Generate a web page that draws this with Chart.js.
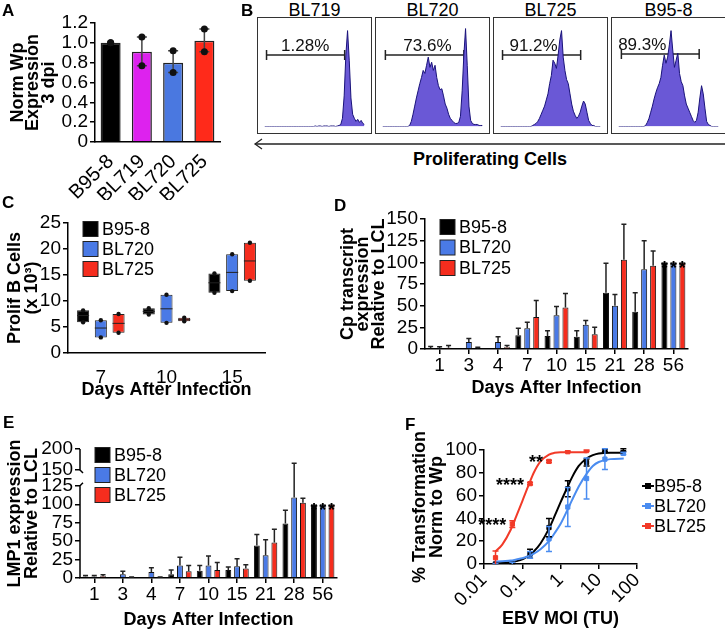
<!DOCTYPE html>
<html>
<head>
<meta charset="utf-8">
<script src="https://cdn.jsdelivr.net/npm/chart.js@4.4.1/dist/chart.umd.min.js"></script>
<style>
body { margin: 0; background: #fff; }
#fig { position: relative; width: 725px; height: 631px; overflow: hidden; font-family: "Liberation Sans", Arial, sans-serif; color: #000; }
#fig > canvas { position: absolute; }
.letter { position: absolute; font-size: 17px; font-weight: bold; line-height: 1; }
.flowTitle { position: absolute; top: 1px; width: 115px; text-align: center; font-size: 18px; line-height: 1; }
.flowBox { position: absolute; top: 17px; width: 115px; height: 117px; border: 1px solid #333; box-sizing: border-box; }
.flowBox canvas { display: block; }
</style>
</head>
<body>
<div id="fig">
  <canvas id="chartA" width="230" height="200" style="left:0;top:0"></canvas>
  <canvas id="chartC" width="340" height="210" style="left:0;top:200px"></canvas>
  <canvas id="chartD" width="385" height="210" style="left:340px;top:200px"></canvas>
  <canvas id="chartE" width="340" height="221" style="left:0;top:410px"></canvas>
  <canvas id="chartF" width="385" height="221" style="left:340px;top:410px"></canvas>
  <div id="flow"></div>
  <svg style="position:absolute;left:250px;top:137px" width="475" height="14">
    <line x1="5" y1="7" x2="475" y2="7" stroke="#222" stroke-width="1.3"/>
    <polyline points="12,2 5,7 12,12" fill="none" stroke="#222" stroke-width="1.3"/>
  </svg>
  <div style="position:absolute;left:390px;top:149px;width:200px;text-align:center;font-weight:bold;font-size:18px">Proliferating Cells</div>
  <div class="letter" style="left:2px;top:2px">A</div>
  <div class="letter" style="left:241px;top:2px">B</div>
  <div class="letter" style="left:2px;top:194px">C</div>
  <div class="letter" style="left:334px;top:197px">D</div>
  <div class="letter" style="left:3px;top:414px">E</div>
  <div class="letter" style="left:405px;top:416px">F</div>
</div>
<script>
// ---- A: Wp expression 3 dpi
const wpStrains = ['B95-8', 'BL719', 'BL720', 'BL725']
const wpMean = [1.0, 0.91, 0.80, 1.02]
const wpRep1 = [1.0, 1.06, 0.92, 1.14]
const wpRep2 = [1.0, 0.77, 0.70, 0.91]
const wpColors = ['#000000', '#dd22ee', '#4a78e0', '#ff2a1a']

// ---- B: proliferation histograms (60 bins, % of box height)
const flowStrains = ['BL719', 'BL720', 'BL725', 'B95-8']
const flowGateText = ['1.28%', '73.6%', '91.2%', '89.3%']
const flowGateLo = [1.2, 1.7, 1.2, 1.7]
const flowGateHi = [47.3, 48, 47.3, 47.6]
const flowGateY = [70, 70, 70, 71]
const flowTextX = [24, 26.5, 19.5, 14]
const histBL719 = [0,0,0,0,0,0,0,0,0,0, 0,0,0,0,0,0,0,0,0,0, 0,0,0,0,0,0,0,0,0,0,
  0.5,0,0.5,0.5,0,0.5,0.5,0.5,0,0.5, 0.5,0.5,0,0.5,1,2,8,30,70,94, 65,28,12,8,5,7,4,6,3,2]
const histBL720 = [0,0,0,0,0,0,0,0,0,0, 0,0,0,0,0,0,1,5,12,20, 28,35,42,48,55,52,60,68,58,63,
  55,60,48,40,36,37,30,22,18,12, 8,6,4,3,3,4,10,35,70,96, 60,20,6,3,2,2,2,1,1,1]
const histBL725 = [0,0,0,0,0,0,0,0,0,0, 0,0,0,0,0,0,0,0,0,1, 2,3,5,8,12,16,20,26,32,42,
  50,65,62,57,70,85,94,68,55,46, 42,32,22,15,11,8,10,14,20,25, 22,14,6,3,1,1,0,0,0,0]
const histB958 = [0,0,0,0,0,0,0,0,0,0, 0,0,0,0,0,0,1,4,8,14, 20,27,33,38,42,48,60,70,62,68,
  80,94,75,58,65,72,52,44,40,30, 22,18,14,10,6,4,6,14,28,40, 32,18,5,2,1,0,0,0,0,0]
const flowHists = [histBL719, histBL720, histBL725, histB958]

// ---- C: proliferating B cells (x10^3), [min, median, max]
const boxDays = ['7', '10', '15']
const boxB958 = [[5.9, 7.2, 8.2], [7.4, 8.0, 8.6], [11.6, 13.5, 15.3]]
const boxBL720 = [[3.0, 4.8, 6.3], [5.8, 8.5, 11.2], [11.9, 15.5, 19.0]]
const boxBL725 = [[3.9, 5.7, 7.5], [6.1, 6.4, 6.8], [13.9, 17.7, 21.2]]

// ---- D / E: days after infection
const days = ['1', '3', '4', '7', '10', '15', '21', '28', '56']
const cpB958 = [1, 0.3, 0.5, 16, 15, 14, 65, 43, 100]
const cpB958Err = [2, 0, 0, 8, 6, 7, 34, 22, 0]
const cpBL720 = [0.5, 8, 8, 24, 39, 28, 50, 92, 100]
const cpBL720Err = [2, 4, 6, 7, 10, 5, 13, 33, 0]
const cpBL725 = [1.5, 1, 2, 37, 48, 17, 103, 96, 100]
const cpBL725Err = [2.5, 1, 2, 19, 16, 8, 41, 17, 0]
const lmpB958 = [2, 0, 0, 5, 10, 11, 44, 74, 100]
const lmpB958Err = [1.5, 0, 0, 6, 7, 4, 15, 18, 0]
const lmpBL720 = [2, 5, 8, 17, 17, 16, 31, 109, 100]
const lmpBL720Err = [1.5, 4, 6, 11, 13, 10, 21, 57, 0]
const lmpBL725 = [2.5, 1, 1, 9, 11, 13, 48, 102, 100]
const lmpBL725Err = [2, 0.5, 0.5, 8, 10, 5, 18, 6, 0]
const dayStars = ['', '', '', '', '', '', '', '', '*']
const lmpTicksLow = [0, 25, 50, 75, 100, 125]
const lmpTicksHigh = [150, 200]

// ---- F: transformation vs MOI
const moiDoses = [0.02, 0.055, 0.16, 0.5, 1.55, 4.8, 14.5, 44]
const tfB958 = [0, 0, 9, 32, 66, 89, 99.5, 100]
const tfB958Err = [0.5, 0.5, 4, 8, 7, 3, 1, 1]
const tfBL720 = [0, 0.5, 8, 22, 50, 75, 92, 97]
const tfBL720Err = [0.5, 1, 3, 11, 17, 18, 9, 1]
const tfBL725 = [5.5, 35, 70.5, 90, 98.5, 99.5]
const tfBL725Err = [6, 3, 1, 1, 0.5, 0.5]
const tfStars = ['', '****', '****', '**', '', '']
const fitMoi = [0.02, 0.03, 0.05, 0.07, 0.1, 0.15, 0.2, 0.3, 0.5, 0.7, 1, 1.5, 2, 3, 5, 7, 10, 20, 45]
const fitB958 = [0.5, 0.8, 1.5, 2.5, 4, 7.5, 11, 18, 31, 42, 54, 67, 76, 86, 93, 95.5, 97, 97.5, 97.5]
const fitBL720 = [2, 2.5, 3, 4, 5, 7, 9, 13, 20, 27, 35, 47, 56, 68, 80, 86, 89.5, 92, 92.5]
const fitBL725 = [11, 17, 30, 42, 55, 70, 80, 90, 96, 97.5, 98, 98, 98, 98, 98]
const moiTicks = [0.01, 0.1, 1, 10, 100]

const black = '#000000', blue = '#4a7ae6', red = '#f52d1e'
const fBlue = '#4a8cf0', fRed = '#f23a28'
const FAMILY = '"Liberation Sans", Arial, sans-serif'

Chart.defaults.font.family = FAMILY
Chart.defaults.font.size = 18
Chart.defaults.color = '#000'
Chart.defaults.animation = false
Chart.defaults.responsive = false
Chart.defaults.plugins.legend.display = false
Chart.defaults.plugins.tooltip.enabled = false

// value -> pixel, jumping to the upper segment on a broken axis
const yPix = (chart, id, v) => {
    const top = chart.scales.yTop
    if (top && v > chart.scales[id].max) return top.getPixelForValue(v)
    return chart.scales[id].getPixelForValue(v)
}

const errorBars = {
    id: 'errorBars',
    afterDatasetsDraw(chart) {
        const ctx = chart.ctx
        chart.data.datasets.forEach((ds, i) => {
            if (!ds.errUp) return
            const meta = chart.getDatasetMeta(i)
            const scale = chart.scales[meta.yAxisID]
            ctx.save()
            ctx.strokeStyle = ds.errColor || '#222'
            ctx.lineWidth = 1.5
            meta.data.forEach((el, j) => {
                const v = meta.controller.getParsed(j).y
                const up = ds.errUp[j] || 0
                const down = ds.errDown ? ds.errDown[j] : 0
                if (!up && !down) return
                const cap = ds.errCap || 2.5
                const y1 = yPix(chart, meta.yAxisID, v + up)
                const y0 = yPix(chart, meta.yAxisID, Math.max(v - down, scale.min))
                ctx.beginPath()
                ctx.moveTo(el.x, y0); ctx.lineTo(el.x, y1)
                if (up) { ctx.moveTo(el.x - cap, y1); ctx.lineTo(el.x + cap, y1) }
                if (down && v - down > scale.min) { ctx.moveTo(el.x - cap, y0); ctx.lineTo(el.x + cap, y0) }
                ctx.stroke()
            })
            ctx.restore()
        })
    }
}

// replicate dots (A), box plot median / end dots (C), significance stars
const extras = {
    id: 'extras',
    afterDatasetsDraw(chart) {
        const ctx = chart.ctx
        chart.data.datasets.forEach((ds, i) => {
            const meta = chart.getDatasetMeta(i)
            ctx.save()
            if (ds.reps) {
                ctx.fillStyle = '#111'
                ds.reps.forEach(rep => meta.data.forEach((el, j) => {
                    ctx.beginPath()
                    ctx.arc(el.x, yPix(chart, meta.yAxisID, rep[j]), 3.5, 0, Math.PI * 2)
                    ctx.fill()
                }))
            }
            if (ds.median) {
                meta.data.forEach((el, j) => {
                    const ym = yPix(chart, meta.yAxisID, ds.median[j])
                    ctx.strokeStyle = '#222'
                    ctx.lineWidth = 1
                    ctx.beginPath()
                    ctx.moveTo(el.x - el.width / 2, ym); ctx.lineTo(el.x + el.width / 2, ym)
                    ctx.stroke()
                    ctx.fillStyle = '#111'
                    ;[el.y, el.base].forEach(yy => {
                        ctx.beginPath(); ctx.arc(el.x, yy, 2.2, 0, Math.PI * 2); ctx.fill()
                    })
                })
            }
            if (ds.marks) {
                ctx.fillStyle = '#000'
                ctx.font = 'bold 18px ' + FAMILY
                meta.data.forEach((el, j) => {
                    const t = ds.marks[j]
                    if (!t) return
                    if (ds.markSide === 'left') {
                        ctx.textAlign = 'right'; ctx.textBaseline = 'middle'
                        ctx.fillText(t, el.x - 6, el.y + 2)
                    } else {
                        ctx.textAlign = 'center'; ctx.textBaseline = 'alphabetic'
                        ctx.fillText(t, el.x, el.y + 12)
                    }
                })
            }
            ctx.restore()
        })
    }
}

// legend drawn inside / beside the plot
const innerLegend = {
    id: 'innerLegend',
    afterDraw(chart, args, opts) {
        if (!opts.show) return
        const ctx = chart.ctx
        const area = chart.chartArea
        const x0 = opts.fromRight ? area.right + opts.x : area.left + opts.x
        ctx.save()
        ctx.font = '18px ' + FAMILY
        ctx.textBaseline = 'middle'
        ctx.textAlign = 'left'
        let row = 0
        chart.data.datasets.forEach(ds => {
            if (!ds.label) return
            const y = area.top + opts.y + row * opts.row
            const c = ds.legendColor || ds.backgroundColor
            if (opts.style === 'line') {
                ctx.strokeStyle = c; ctx.lineWidth = 2
                ctx.beginPath(); ctx.moveTo(x0, y); ctx.lineTo(x0 + 12, y); ctx.stroke()
                ctx.fillStyle = c
                ctx.fillRect(x0 + 3, y - 3, 6, 6)
                ctx.fillStyle = '#000'
                ctx.fillText(ds.label, x0 + 12, y + 1)
            } else {
                ctx.fillStyle = c
                ctx.fillRect(x0, y - opts.size / 2, opts.size, opts.size)
                ctx.strokeStyle = '#222'; ctx.lineWidth = 1
                ctx.strokeRect(x0, y - opts.size / 2, opts.size, opts.size)
                ctx.fillStyle = '#000'
                ctx.fillText(ds.label, x0 + opts.size + 4, y + 1)
            }
            row++
        })
        ctx.restore()
    }
}

// broken y axis (E): axis line segments and a title centred on both segments
const brokenAxis = {
    id: 'brokenAxis',
    afterDraw(chart, args, opts) {
        const top = chart.scales.yTop
        if (!top) return
        const low = chart.scales.y
        const x = low.right
        const ctx = chart.ctx
        ctx.save()
        ctx.strokeStyle = '#000'; ctx.lineWidth = 1.5
        ctx.beginPath()
        ctx.moveTo(x, low.getPixelForValue(0)); ctx.lineTo(x, low.getPixelForValue(125))
        ctx.lineTo(x + 3, low.getPixelForValue(125) - 3)
        ctx.moveTo(x + 3, top.getPixelForValue(150) + 3)
        ctx.lineTo(x, top.getPixelForValue(150)); ctx.lineTo(x, top.getPixelForValue(200))
        ctx.stroke()
        if (opts.title) {
            ctx.font = 'bold 18px ' + FAMILY
            ctx.fillStyle = '#000'
            ctx.textAlign = 'center'; ctx.textBaseline = 'middle'
            ctx.translate(opts.x, (top.top + low.bottom) / 2)
            ctx.rotate(-Math.PI / 2)
            opts.title.forEach((t, i) => ctx.fillText(t, 0, i * opts.lineHeight))
        }
        ctx.restore()
    }
}

Chart.register(errorBars, extras, innerLegend, brokenAxis)

const axisGrid = { drawOnChartArea: false, color: '#000', lineWidth: 1.5, tickLength: 5 }
const axisBorder = { color: '#000', width: 1.5 }
const tickFont = (size = 19) => ({ family: FAMILY, size, weight: 'normal' })
const titleFont = (lh) => ({ family: FAMILY, size: 18, weight: 'bold', lineHeight: lh })

// ---------------- A
new Chart(document.getElementById('chartA'), {
    type: 'bar',
    data: {
        labels: wpStrains,
        datasets: [{
            data: wpMean,
            backgroundColor: wpColors,
            borderColor: '#222',
            borderWidth: 1.5,
            borderSkipped: 'bottom',
            barPercentage: 0.64,
            categoryPercentage: 1,
            errUp: wpMean.map((m, i) => Math.max(wpRep1[i], wpRep2[i]) - m),
            errDown: wpMean.map((m, i) => m - Math.min(wpRep1[i], wpRep2[i])),
            errColor: '#444',
            errCap: 5,
            reps: [wpRep1, wpRep2],
        }]
    },
    options: {
        layout: { padding: { top: 23, right: 10, left: 0, bottom: 0 } },
        scales: {
            x: {
                border: axisBorder,
                grid: { display: false },
                ticks: { font: tickFont(20), minRotation: 45, maxRotation: 45, padding: 0, autoSkip: false },
                afterFit: s => { s.height = 58 }
            },
            y: {
                min: 0, max: 1.2,
                border: axisBorder,
                grid: axisGrid,
                ticks: { font: tickFont(), stepSize: 0.2, padding: 2, autoSkip: false, callback: v => v === 0 ? '0' : v.toFixed(1) },
                title: { display: true, text: ['Norm Wp', 'Expression', '3 dpi'], font: titleFont(0.85), padding: { top: 10.5, bottom: 0 } },
                afterFit: s => { s.width = 95 }
            }
        }
    }
})

// ---------------- B
const flowDiv = document.getElementById('flow')
const flowLeft = [257, 375, 493, 611]
flowStrains.forEach((name, k) => {
    const title = document.createElement('div')
    title.className = 'flowTitle'
    title.style.left = flowLeft[k] + 'px'
    title.textContent = name
    flowDiv.appendChild(title)
    const box = document.createElement('div')
    box.className = 'flowBox'
    box.style.left = flowLeft[k] + 'px'
    const cv = document.createElement('canvas')
    cv.width = 113; cv.height = 115
    box.appendChild(cv)
    flowDiv.appendChild(box)

    new Chart(cv, {
        type: 'line',
        data: {
            datasets: [{
                data: flowHists[k].map((v, i) => ({ x: i, y: v })),
                fill: 'origin',
                backgroundColor: '#6a58d6',
                borderColor: '#1a137a',
                borderWidth: 1,
                pointRadius: 0,
            }, {
                data: [{ x: flowGateLo[k], y: flowGateY[k] }, { x: flowGateHi[k], y: flowGateY[k] }],
                borderColor: '#222',
                borderWidth: 1.5,
                pointStyle: 'line',
                rotation: 90,
                pointRadius: 5,
                pointBorderWidth: 1.5,
                pointBorderColor: '#222',
            }]
        },
        options: {
            layout: { padding: 0 },
            scales: {
                x: { type: 'linear', min: 0, max: 59, display: false },
                y: { min: 0, max: 100, display: false }
            }
        },
        plugins: [{
            id: 'gateLabel',
            afterDraw(chart) {
                const ctx = chart.ctx
                ctx.save()
                ctx.font = '17px ' + FAMILY
                ctx.fillStyle = '#111'
                ctx.textAlign = 'center'
                ctx.textBaseline = 'alphabetic'
                ctx.fillText(flowGateText[k], chart.scales.x.getPixelForValue(flowTextX[k]),
                    chart.scales.y.getPixelForValue(flowGateY[k]) - 4)
                ctx.restore()
            }
        }]
    })
})

// ---------------- C
const boxSet = (label, rows, color) => ({
    label,
    data: rows.map(r => [r[0], r[2]]),
    median: rows.map(r => r[1]),
    backgroundColor: color,
    borderColor: '#222',
    borderWidth: 1,
    borderSkipped: false,
    categoryPercentage: 0.81,
    barPercentage: 0.68,
})
new Chart(document.getElementById('chartC'), {
    type: 'bar',
    data: {
        labels: boxDays,
        datasets: [boxSet('B95-8', boxB958, black), boxSet('BL720', boxBL720, blue), boxSet('BL725', boxBL725, red)]
    },
    options: {
        layout: { padding: { top: 23, right: 75, left: 0, bottom: 0 } },
        plugins: { innerLegend: { show: true, x: 15, y: 6, row: 20, size: 15 } },
        scales: {
            x: {
                border: axisBorder,
                grid: { display: false },
                ticks: { font: tickFont(), padding: 5 },
                title: { display: true, text: 'Days After Infection', font: titleFont(1.2), padding: { top: 0, bottom: 9 } },
                afterFit: s => { s.height = 57 }
            },
            y: {
                min: 0, max: 25,
                border: axisBorder,
                grid: axisGrid,
                ticks: { font: tickFont(), stepSize: 5, padding: 2, autoSkip: false },
                title: { display: true, text: ['Prolif B Cells', '(x 10³)'], font: titleFont(0.95), padding: { top: 6.5, bottom: 0 } },
                afterFit: s => { s.width = 68 }
            }
        }
    }
})

// ---------------- D
const barSet = (label, data, err, color) => ({
    label,
    data,
    errUp: err,
    marks: dayStars,
    backgroundColor: color,
    borderColor: '#111',
    borderWidth: 1,
    borderSkipped: 'bottom',
    categoryPercentage: 0.92,
    barPercentage: 0.67,
})
const dayAxis = (h, bottom) => ({
    border: axisBorder,
    grid: { ...axisGrid, offset: false },
    ticks: { font: tickFont(), padding: 0, autoSkip: false, maxRotation: 0 },
    title: { display: true, text: 'Days After Infection', font: titleFont(1.2), padding: { top: 0, bottom } },
    afterFit: s => { s.height = h }
})
new Chart(document.getElementById('chartD'), {
    type: 'bar',
    data: {
        labels: days,
        datasets: [
            barSet('B95-8', cpB958, cpB958Err, black),
            barSet('BL720', cpBL720, cpBL720Err, blue),
            barSet('BL725', cpBL725, cpBL725Err, red)
        ]
    },
    options: {
        layout: { padding: { top: 19, right: 37, left: 0, bottom: 0 } },
        plugins: { innerLegend: { show: true, x: 15, y: 8, row: 20.5, size: 15 } },
        scales: {
            x: dayAxis(61, 11),
            y: {
                min: 0, max: 150,
                border: axisBorder,
                grid: axisGrid,
                ticks: { font: tickFont(), stepSize: 25, padding: 2, autoSkip: false },
                title: { display: true, text: ['Cp transcript', 'expression', 'Relative to LCL'], font: titleFont(0.85), padding: { top: 0.5, bottom: 0 } },
                afterFit: s => { s.width = 85 }
            }
        }
    }
})

// ---------------- E (broken axis)
new Chart(document.getElementById('chartE'), {
    type: 'bar',
    data: {
        labels: days,
        datasets: [
            barSet('B95-8', lmpB958, lmpB958Err, black),
            barSet('BL720', lmpBL720, lmpBL720Err, blue),
            barSet('BL725', lmpBL725, lmpBL725Err, red)
        ]
    },
    options: {
        layout: { padding: { top: 39, right: 3, left: 0, bottom: 0 } },
        plugins: {
            innerLegend: { show: true, x: 15, y: 6, row: 20, size: 15 },
            brokenAxis: { title: ['LMP1 expression', 'Relative to LCL'], x: 15, lineHeight: 17 }
        },
        scales: {
            x: dayAxis(53, 0),
            y: {
                type: 'linear', position: 'left', stack: 'lmp', stackWeight: 99.4,
                min: 0, max: 135,
                border: { display: false },
                grid: axisGrid,
                ticks: { font: tickFont(), padding: 2, autoSkip: false },
                afterBuildTicks: s => { s.ticks = lmpTicksLow.map(v => ({ value: v })) },
                afterFit: s => { s.width = 80 }
            },
            yTop: {
                type: 'linear', position: 'left', stack: 'lmp', stackWeight: 29.4,
                min: 130, max: 200,
                border: { display: false },
                grid: axisGrid,
                ticks: { font: tickFont(), padding: 2, autoSkip: false },
                afterBuildTicks: s => { s.ticks = lmpTicksHigh.map(v => ({ value: v })) },
                afterFit: s => { s.width = 80 }
            }
        }
    }
})

// ---------------- F
const pts = (ys) => ys.map((y, i) => ({ x: moiDoses[i], y }))
const curve = (ys) => ys.map((y, i) => ({ x: fitMoi[i], y }))
const pointSet = (label, ys, err, color) => ({
    label,
    data: pts(ys),
    showLine: false,
    pointStyle: 'rect',
    pointRadius: 3,
    backgroundColor: color,
    borderColor: color,
    legendColor: color,
    errUp: err,
    errDown: err,
    errColor: color,
    errCap: 3,
})
const lineSet = (ys, color) => ({
    data: curve(ys),
    borderColor: color,
    borderWidth: 2,
    pointRadius: 0,
    cubicInterpolationMode: 'monotone',
})
new Chart(document.getElementById('chartF'), {
    type: 'line',
    data: {
        datasets: [
            lineSet(fitBL720, fBlue),
            lineSet(fitBL725, fRed),
            lineSet(fitB958, black),
            pointSet('B95-8', tfB958, tfB958Err, black),
            pointSet('BL720', tfBL720, tfBL720Err, fBlue),
            { ...pointSet('BL725', tfBL725, tfBL725Err, fRed), marks: tfStars, markSide: 'left' }
        ]
    },
    options: {
        layout: { padding: { top: 40, right: 88, left: 64, bottom: 0 } },
        plugins: { innerLegend: { show: true, fromRight: true, style: 'line', x: 5, y: 36, row: 20 } },
        scales: {
            x: {
                type: 'logarithmic', min: 0.01, max: 100,
                border: axisBorder,
                grid: axisGrid,
                ticks: { font: tickFont(), minRotation: 45, maxRotation: 45, padding: 0, autoSkip: false, callback: v => String(v) },
                afterBuildTicks: s => { s.ticks = moiTicks.map(v => ({ value: v })) },
                title: { display: true, text: 'EBV MOI (TU)', font: titleFont(1.2), padding: { top: 0, bottom: 1 } },
                afterFit: s => { s.height = 67 }
            },
            y: {
                min: 0, max: 100,
                border: axisBorder,
                grid: axisGrid,
                ticks: { font: tickFont(), stepSize: 20, padding: 2, autoSkip: false },
                title: { display: true, text: ['% Transformation', 'Norm to Wp'], font: titleFont(0.95), padding: { top: 7.5, bottom: 0 } },
                afterFit: s => { s.width = 80 }
            }
        }
    }
})
</script>
</body>
</html>
